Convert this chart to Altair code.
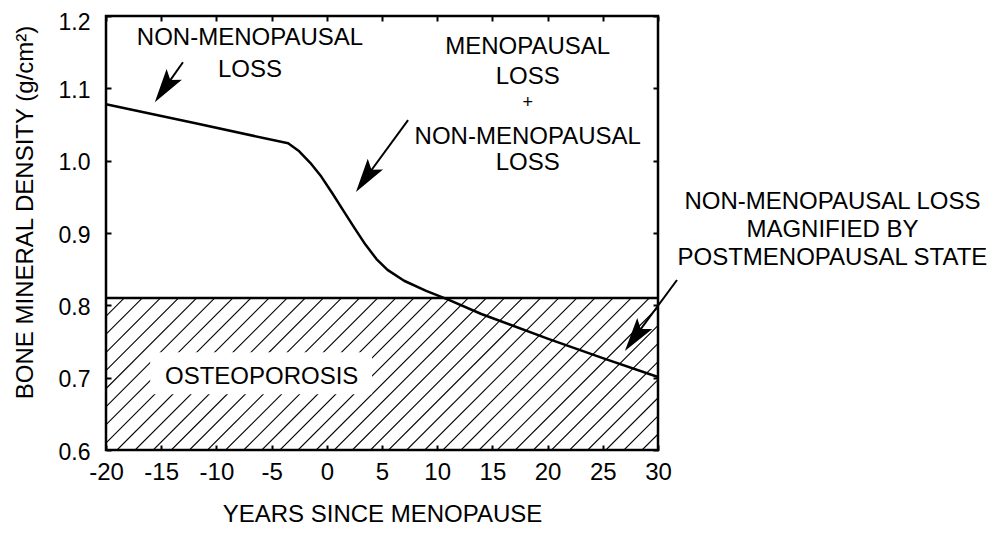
import altair as alt
import numpy as np
import pandas as pd

# ---- data ----
years = [-20, -12, -3.5, -2.5, -1.5, -0.5, 0.5, 1.5, 2.5, 3.5, 4.5, 5.5, 7, 9, 11,
         14, 20, 25, 30]
bmd = [1.078, 1.052, 1.024, 1.013, 0.997, 0.978, 0.955, 0.931, 0.907, 0.884, 0.864,
       0.849, 0.834, 0.820, 0.808, 0.788, 0.754, 0.727, 0.701]
threshold = 0.81
x_ticks = [-20, -15, -10, -5, 0, 5, 10, 15, 20, 25, 30]
y_ticks = [0.6, 0.7, 0.8, 0.9, 1.0, 1.1, 1.2]

# annotation text lines (label, x, y in data units)
ann_labels = ["NON-MENOPAUSAL", "LOSS",
              "MENOPAUSAL", "LOSS", "+", "NON-MENOPAUSAL", "LOSS",
              "NON-MENOPAUSAL LOSS", "MAGNIFIED BY", "POSTMENOPAUSAL STATE",
              "OSTEOPOROSIS"]
ann_x = [-6.96, -6.96,
         18.2, 18.2, 18.2, 18.2, 18.2,
         45.8, 45.8, 45.8,
         -5.9]
ann_y = [1.170, 1.125,
         1.157, 1.116, 1.080, 1.033, 0.997,
         0.943, 0.904, 0.865,
         0.701]
ann_size = [24, 24, 24, 24, 18, 24, 24, 24, 24, 24, 24]

# arrows: tail -> head
arr_x = [-13.03, 7.36, 31.72]
arr_y = [1.136, 1.056, 0.835]
arr_hx = [-14.70, 3.52, 27.90]
arr_hy = [1.100, 0.976, 0.756]
arr_angle = [215, 215, 216]

# white box behind the OSTEOPOROSIS label
box = pd.DataFrame({"x": [-16.0], "x2": [4.1], "y": [0.677], "y2": [0.735]})

FONT = "Liberation Sans"
FS = 24

xs = alt.Scale(domain=[-20, 30], nice=False, zero=False)
ys = alt.Scale(domain=[0.6, 1.2], nice=False, zero=False)

# hatch decoration (style only, not data)
hatch_dx = 13.76   # 45 degree run over the hatched height, in x units
hatch_step = 1.64
starts = np.arange(-20 - hatch_dx, 30 + hatch_step, hatch_step)
hatch = pd.DataFrame({"x": starts, "y": 0.6, "x2": starts + hatch_dx, "y2": threshold})

curve = pd.DataFrame({"year": years, "bmd": bmd})
ann = pd.DataFrame({"label": ann_labels, "x": ann_x, "y": ann_y, "fs": ann_size})
arrows = pd.DataFrame({"x": arr_x, "y": arr_y, "x2": arr_hx, "y2": arr_hy,
                       "angle": arr_angle})

hatch_layer = alt.Chart(hatch).mark_rule(clip=True, strokeWidth=1.1, color="black").encode(
    x=alt.X("x:Q", scale=xs, axis=None), y=alt.Y("y:Q", scale=ys, axis=None),
    x2="x2:Q", y2="y2:Q")

box_layer = alt.Chart(box).mark_rect(color="white").encode(
    x=alt.X("x:Q", scale=xs, axis=None), x2="x2:Q",
    y=alt.Y("y:Q", scale=ys, axis=None), y2="y2:Q")

thr_layer = alt.Chart(pd.DataFrame({"t": [threshold]})).mark_rule(
    strokeWidth=2.5, color="black").encode(y=alt.Y("t:Q", scale=ys, axis=None))

curve_layer = alt.Chart(curve).mark_line(
    interpolate="linear", strokeWidth=2.5, color="black", strokeJoin="round").encode(
    x=alt.X("year:Q", scale=xs,
            axis=alt.Axis(values=x_ticks, title="YEARS SINCE MENOPAUSE", orient="bottom",
                          offset=-5, tickSize=5, domain=False, labelPadding=10,
                          titlePadding=18, labelOverlap=False, labelFlush=False,
                          labelExpr="'' + datum.value")),
    y=alt.Y("bmd:Q", scale=ys,
            axis=alt.Axis(values=y_ticks, title="BONE MINERAL DENSITY (g/cm²)", orient="left",
                          offset=-5, tickSize=5, domain=False, labelPadding=16,
                          labelFontSize=23,
                          labelOffset={"condition": {"test": "datum.value > 1.15", "value": 6},
                                       "value": 2},
                          labelFlush=False,
                          titlePadding=21, format=".1f", titleY=196)))

frame_axes = alt.Chart(curve).mark_line(opacity=0).encode(
    x=alt.X("year:Q", scale=xs,
            axis=alt.Axis(values=x_ticks, orient="top", offset=-5, tickSize=5,
                          domain=False, labels=False, title=None)),
    y=alt.Y("bmd:Q", scale=ys,
            axis=alt.Axis(values=y_ticks, orient="right", offset=-5, tickSize=5,
                          domain=False, labels=False, title=None)))

text_layer = alt.Chart(ann).mark_text(
    font=FONT, color="black", align="center", baseline="middle").encode(
    x=alt.X("x:Q", scale=xs, axis=None), y=alt.Y("y:Q", scale=ys, axis=None),
    text="label:N", size=alt.Size("fs:Q", scale=None, legend=None))

shaft_layer = alt.Chart(arrows).mark_rule(strokeWidth=2, color="black").encode(
    x=alt.X("x:Q", scale=xs, axis=None), y=alt.Y("y:Q", scale=ys, axis=None),
    x2="x2:Q", y2="y2:Q")

head_layer = alt.Chart(arrows).mark_point(
    shape="M0,-1L0.55,1L0,0.6L-0.55,1Z", filled=True, size=1150, color="black",
    opacity=1).encode(
    x=alt.X("x2:Q", scale=xs, axis=None), y=alt.Y("y2:Q", scale=ys, axis=None),
    angle=alt.Angle("angle:Q", scale=None))

chart = alt.layer(
    hatch_layer, box_layer, thr_layer, curve_layer, frame_axes,
    text_layer, shaft_layer, head_layer
).resolve_axis(x="independent", y="independent").properties(
    width=552, height=434, autosize="none",
    padding={"left": 98, "top": 8, "right": 333, "bottom": 75}
).configure_view(stroke="black", strokeWidth=2.5).configure_axis(
    grid=False, labelFont=FONT, labelFontSize=FS, labelColor="black",
    titleFont=FONT, titleFontSize=FS, titleFontWeight="normal", titleColor="black",
    tickColor="black", tickWidth=2
)

chart.save("out.html", embed_options={"renderer": "svg", "actions": False})
